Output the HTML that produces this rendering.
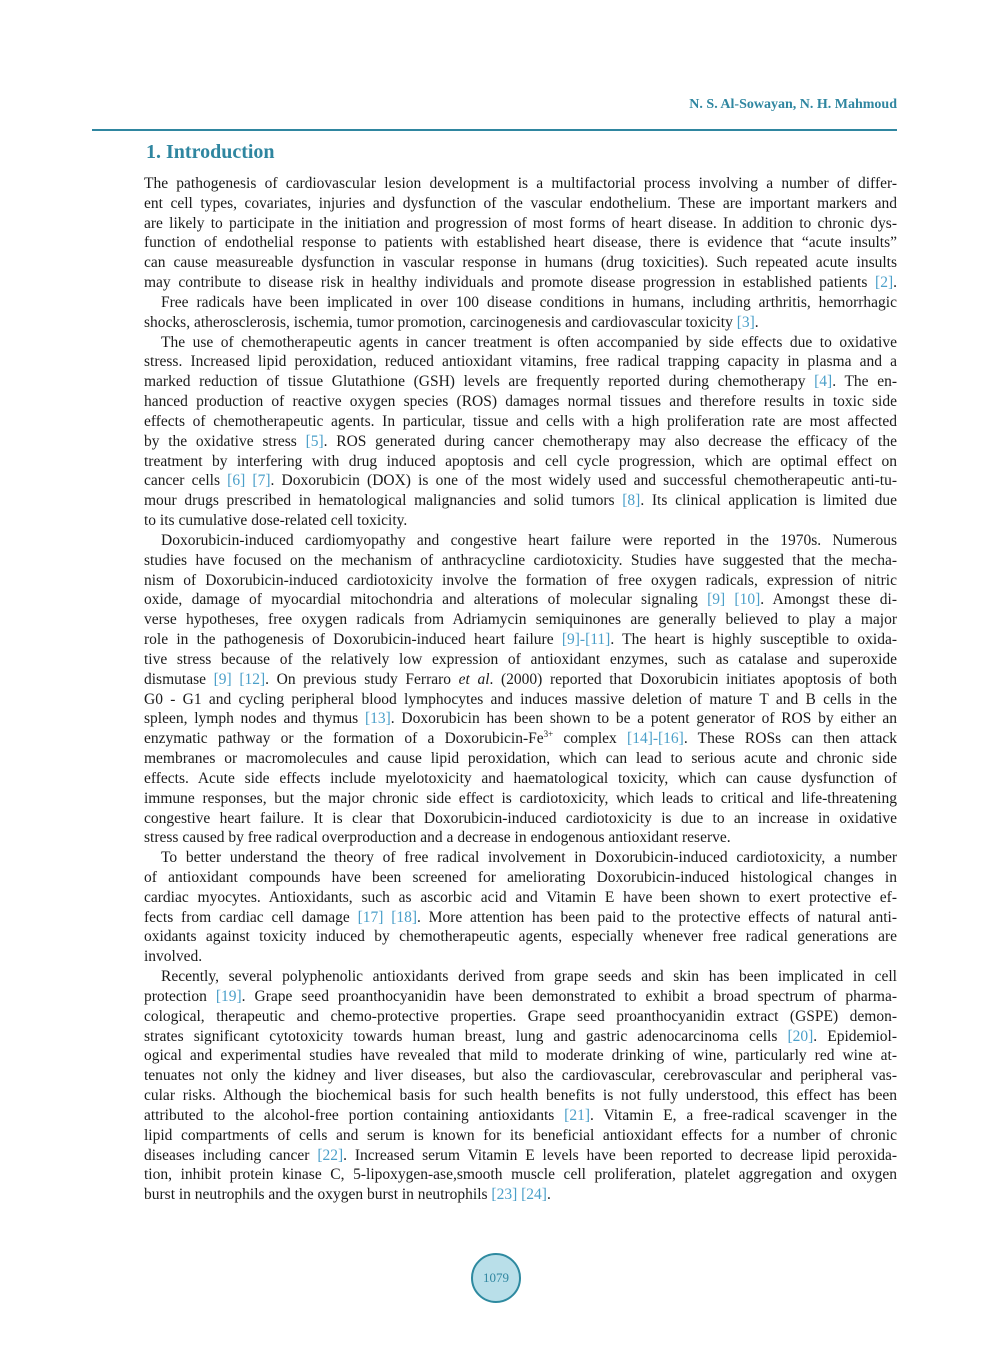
<!DOCTYPE html>
<html><head><meta charset="utf-8"><style>
body{margin:0;background:#fff;}
.pg{position:relative;width:992px;height:1347px;font-family:"Liberation Serif",serif;color:#1a1a1a;}
.hdr{position:absolute;right:95px;top:97px;font-size:14px;color:#2f86a0;font-weight:bold;}
.rule{position:absolute;left:92px;top:129px;width:805px;height:2px;background:#2f86a0;}
h1{position:absolute;left:146px;top:141px;margin:0;font-size:20px;color:#2f86a0;font-weight:bold;}
.txt{position:absolute;left:144px;top:174px;width:753px;font-size:15.5px;line-height:19.83px;}
.l{text-align:justify;text-align-last:justify;white-space:nowrap;height:19.83px;overflow:visible;}
.e{text-align-last:left;}
.i{padding-left:17px;}
.c{color:#4a9fc9;}
.pn{position:absolute;left:471px;top:1253px;width:46px;height:46px;border:2px solid #2e8aa0;border-radius:50%;background:#b9dfe9;color:#2f86a0;font-size:13px;text-align:center;line-height:46px;}
</style></head><body><div class="pg">
<div class="hdr">N. S. Al-Sowayan, N. H. Mahmoud</div>
<div class="rule"></div>
<h1>1. Introduction</h1>
<div class="txt">
<div class="l">The pathogenesis of cardiovascular lesion development is a multifactorial process involving a number of differ-</div>
<div class="l">ent cell types, covariates, injuries and dysfunction of the vascular endothelium. These are important markers and</div>
<div class="l">are likely to participate in the initiation and progression of most forms of heart disease. In addition to chronic dys-</div>
<div class="l">function of endothelial response to patients with established heart disease, there is evidence that “acute insults”</div>
<div class="l">can cause measureable dysfunction in vascular response in humans (drug toxicities). Such repeated acute insults</div>
<div class="l">may contribute to disease risk in healthy individuals and promote disease progression in established patients <span class="c">[2]</span>.</div>
<div class="l i">Free radicals have been implicated in over 100 disease conditions in humans, including arthritis, hemorrhagic</div>
<div class="l e">shocks, atherosclerosis, ischemia, tumor promotion, carcinogenesis and cardiovascular toxicity <span class="c">[3]</span>.</div>
<div class="l i">The use of chemotherapeutic agents in cancer treatment is often accompanied by side effects due to oxidative</div>
<div class="l">stress. Increased lipid peroxidation, reduced antioxidant vitamins, free radical trapping capacity in plasma and a</div>
<div class="l">marked reduction of tissue Glutathione (GSH) levels are frequently reported during chemotherapy <span class="c">[4]</span>. The en-</div>
<div class="l">hanced production of reactive oxygen species (ROS) damages normal tissues and therefore results in toxic side</div>
<div class="l">effects of chemotherapeutic agents. In particular, tissue and cells with a high proliferation rate are most affected</div>
<div class="l">by the oxidative stress <span class="c">[5]</span>. ROS generated during cancer chemotherapy may also decrease the efficacy of the</div>
<div class="l">treatment by interfering with drug induced apoptosis and cell cycle progression, which are optimal effect on</div>
<div class="l">cancer cells <span class="c">[6] [7]</span>. Doxorubicin (DOX) is one of the most widely used and successful chemotherapeutic anti-tu-</div>
<div class="l">mour drugs prescribed in hematological malignancies and solid tumors <span class="c">[8]</span>. Its clinical application is limited due</div>
<div class="l e">to its cumulative dose-related cell toxicity.</div>
<div class="l i">Doxorubicin-induced cardiomyopathy and congestive heart failure were reported in the 1970s. Numerous</div>
<div class="l">studies have focused on the mechanism of anthracycline cardiotoxicity. Studies have suggested that the mecha-</div>
<div class="l">nism of Doxorubicin-induced cardiotoxicity involve the formation of free oxygen radicals, expression of nitric</div>
<div class="l">oxide, damage of myocardial mitochondria and alterations of molecular signaling <span class="c">[9] [10]</span>. Amongst these di-</div>
<div class="l">verse hypotheses, free oxygen radicals from Adriamycin semiquinones are generally believed to play a major</div>
<div class="l">role in the pathogenesis of Doxorubicin-induced heart failure <span class="c">[9]-[11]</span>. The heart is highly susceptible to oxida-</div>
<div class="l">tive stress because of the relatively low expression of antioxidant enzymes, such as catalase and superoxide</div>
<div class="l">dismutase <span class="c">[9] [12]</span>. On previous study Ferraro <i>et al</i>. (2000) reported that Doxorubicin initiates apoptosis of both</div>
<div class="l">G0 - G1 and cycling peripheral blood lymphocytes and induces massive deletion of mature T and B cells in the</div>
<div class="l">spleen, lymph nodes and thymus <span class="c">[13]</span>. Doxorubicin has been shown to be a potent generator of ROS by either an</div>
<div class="l">enzymatic pathway or the formation of a Doxorubicin-Fe<sup style="font-size:9px;line-height:0">3+</sup> complex <span class="c">[14]-[16]</span>. These ROSs can then attack</div>
<div class="l">membranes or macromolecules and cause lipid peroxidation, which can lead to serious acute and chronic side</div>
<div class="l">effects. Acute side effects include myelotoxicity and haematological toxicity, which can cause dysfunction of</div>
<div class="l">immune responses, but the major chronic side effect is cardiotoxicity, which leads to critical and life-threatening</div>
<div class="l">congestive heart failure. It is clear that Doxorubicin-induced cardiotoxicity is due to an increase in oxidative</div>
<div class="l e">stress caused by free radical overproduction and a decrease in endogenous antioxidant reserve.</div>
<div class="l i">To better understand the theory of free radical involvement in Doxorubicin-induced cardiotoxicity, a number</div>
<div class="l">of antioxidant compounds have been screened for ameliorating Doxorubicin-induced histological changes in</div>
<div class="l">cardiac myocytes. Antioxidants, such as ascorbic acid and Vitamin E have been shown to exert protective ef-</div>
<div class="l">fects from cardiac cell damage <span class="c">[17] [18]</span>. More attention has been paid to the protective effects of natural anti-</div>
<div class="l">oxidants against toxicity induced by chemotherapeutic agents, especially whenever free radical generations are</div>
<div class="l e">involved.</div>
<div class="l i">Recently, several polyphenolic antioxidants derived from grape seeds and skin has been implicated in cell</div>
<div class="l">protection <span class="c">[19]</span>. Grape seed proanthocyanidin have been demonstrated to exhibit a broad spectrum of pharma-</div>
<div class="l">cological, therapeutic and chemo-protective properties. Grape seed proanthocyanidin extract (GSPE) demon-</div>
<div class="l">strates significant cytotoxicity towards human breast, lung and gastric adenocarcinoma cells <span class="c">[20]</span>. Epidemiol-</div>
<div class="l">ogical and experimental studies have revealed that mild to moderate drinking of wine, particularly red wine at-</div>
<div class="l">tenuates not only the kidney and liver diseases, but also the cardiovascular, cerebrovascular and peripheral vas-</div>
<div class="l">cular risks. Although the biochemical basis for such health benefits is not fully understood, this effect has been</div>
<div class="l">attributed to the alcohol-free portion containing antioxidants <span class="c">[21]</span>. Vitamin E, a free-radical scavenger in the</div>
<div class="l">lipid compartments of cells and serum is known for its beneficial antioxidant effects for a number of chronic</div>
<div class="l">diseases including cancer <span class="c">[22]</span>. Increased serum Vitamin E levels have been reported to decrease lipid peroxida-</div>
<div class="l">tion, inhibit protein kinase C, 5-lipoxygen-ase,smooth muscle cell proliferation, platelet aggregation and oxygen</div>
<div class="l e">burst in neutrophils and the oxygen burst in neutrophils <span class="c">[23] [24]</span>.</div>
</div>
<div class="pn">1079</div>
</div></body></html>
